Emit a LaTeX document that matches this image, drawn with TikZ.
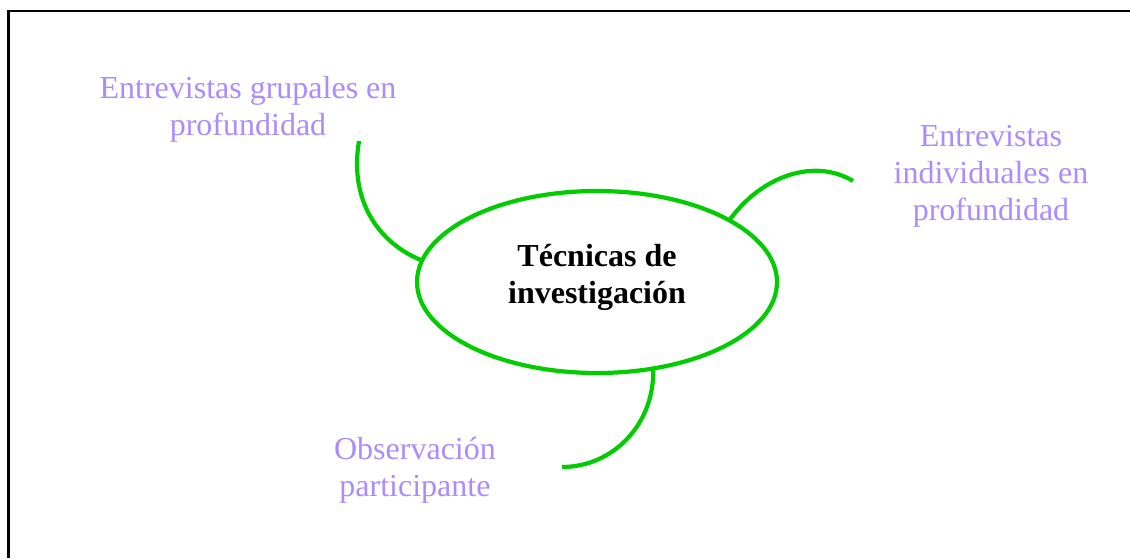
\documentclass[tikz,border=0pt]{standalone}
\usepackage{fontspec}
\setmainfont{Liberation Serif}
\usetikzlibrary{shapes.geometric,positioning}

\definecolor{ramagreen}{RGB}{0,204,0}
\definecolor{lavanda}{RGB}{171,139,255}

\tikzset{
	rama/.style={ramagreen, line width=4.2pt},
	tecnica/.style={lavanda, align=center, font=\fontsize{32}{37}\selectfont},
}

\begin{document}
\begin{tikzpicture}[x=1pt, y=-1pt]
	
		\useasboundingbox (0,0) rectangle (1130,558);
		
		% Frame (left and top only)
		\draw [black, line width=2.5pt] (8.5,558) -- (8.5,11) -- (1130,11);
		
		% Central ellipse
		\node (tec) [ellipse, draw=ramagreen, line width=4.2pt, minimum width=360pt, minimum height=182pt, inner sep=0pt, outer sep=0pt] at (597,282) {};
		\node (tectxt) [align=center, font=\fontsize{32}{37}\selectfont\bfseries] at (597,277) {T\'ecnicas de\\investigaci\'on};
		
		% Labels
		\node (grupales) [tecnica] at (248,109) {Entrevistas grupales en\\profundidad};
		\node (individuales) [tecnica] at (991,176) {Entrevistas\\individuales en\\profundidad};
		\node (observacion) [tecnica] at (415,470) {Observaci\'on\\participante};
		
		% Branch ends
		\coordinate (g1) at (359,141);
		\coordinate (i1) at (853,181);
		\coordinate (o1) at (562,467);
		
		% Branches
		\draw [rama] (g1) .. controls (349,200) and (378,243) .. (tec.173);
		\draw [rama] (tec.25) .. controls (762,175) and (815,158) .. (i1);
		\draw [rama] (tec.303.4) .. controls (655,424) and (613,467) .. (o1);
		
	\end{tikzpicture}
\end{document}
